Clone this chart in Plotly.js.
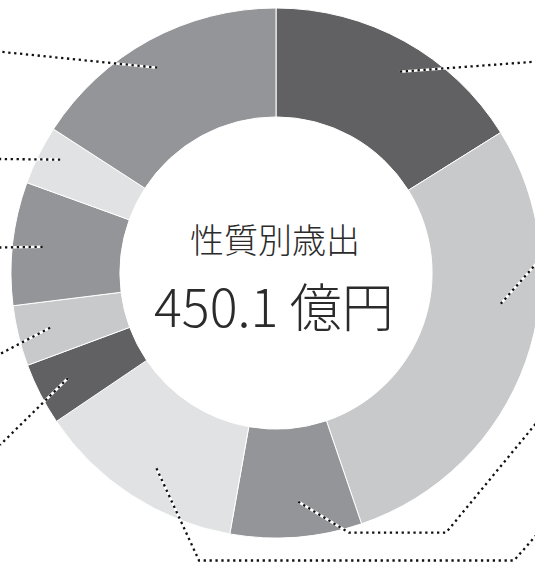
<!DOCTYPE html>
<html>
<head>
<meta charset="utf-8">
<script src="https://cdn.plot.ly/plotly-3.0.1.min.js"></script>
<style>
html,body{margin:0;padding:0;overflow:hidden;background:#fff;}
#chart{width:550px;height:563px;}
</style>
</head>
<body>
<div id="chart"></div>
<script>
// ---- data (億円) ----
const categories = ["人件費", "扶助費", "公債費", "物件費", "維持補修費", "補助費等", "普通建設事業費", "積立金", "繰出金"];
const values = [72.5, 129.0, 36.1, 57.4, 17.1, 16.6, 33.8, 16.2, 71.4];
const centerTitle = "性質別歳出";
const centerTotal = "450.1 億円";

// ---- styles / layout ----
const sliceColors = ["#616163", "#c8c9ca", "#949598", "#e1e2e3", "#616163", "#c8c9ca", "#949598", "#e1e2e3", "#949598"];
const W = 550, H = 563;
const CX = 276, CY = 273, R = 265;
const HOLE = 0.589;
// leader anchor: [fraction along slice, fraction of outer radius]
const leaderAnchor = [[0.545,0.892],[0.386,0.856],[0.46,0.867],[0.467,0.864],[0.53,0.879],[0.51,0.877],[0.5,0.886],[0.6,0.92],[0.474,0.895]];
// further leader route points (pixels)
const leaderRoute = [
  [[550, 60.6]],
  [[550, 248]],
  [[349, 532.7], [446, 532.7], [550, 406.4]],
  [[199, 560.5], [514, 560.5], [550, 519.5]],
  [[0, 445]],
  [[0, 354]],
  [[0, 247.5]],
  [[0, 159]],
  [[0, 51.7]]
];

const px = x => x / W;
const py = y => 1 - y / H;

const total = values.reduce((a, b) => a + b, 0);
const shapes = [];
let cum = 0;
values.forEach((v, i) => {
  const a0 = cum / total * 360;
  const a1 = (cum + v) / total * 360;
  cum += v;
  const ang = (a0 + (a1 - a0) * leaderAnchor[i][0]) * Math.PI / 180;
  const r = R * leaderAnchor[i][1];
  const sx = CX + r * Math.sin(ang);
  const sy = CY - r * Math.cos(ang);
  const pts = [[sx, sy]].concat(leaderRoute[i]);
  const path = pts.map((p, k) => (k ? "L" : "M") + px(p[0]).toFixed(5) + "," + py(p[1]).toFixed(5)).join(" ");
  shapes.push({type: "path", xref: "paper", yref: "paper", path: path, line: {color: "#ffffff", width: 2.6}});
  shapes.push({type: "path", xref: "paper", yref: "paper", path: path, line: {color: "#111111", width: 2.3, dash: "2.3px,3.6px"}});
});

const trace = {
  type: "pie",
  labels: categories,
  values: values,
  sort: false,
  direction: "clockwise",
  rotation: 0,
  hole: HOLE,
  textinfo: "none",
  hoverinfo: "label+value+percent",
  marker: {colors: sliceColors, line: {color: "#ffffff", width: 1}},
  domain: {x: [(CX - R) / W, (CX + R) / W], y: [py(CY + R), py(CY - R)]},
  showlegend: false
};

const layout = {
  width: W,
  height: H,
  margin: {l: 0, r: 0, t: 0, b: 0},
  paper_bgcolor: "#ffffff",
  showlegend: false,
  shapes: shapes,
  annotations: [
    {text: centerTitle, x: px(275), y: py(238), xref: "paper", yref: "paper", showarrow: false,
     xanchor: "center", yanchor: "middle",
     font: {family: "Noto Sans CJK JP", size: 34, color: "#2b2b2b", weight: 300}},
    {text: centerTotal, x: px(274), y: py(304), xref: "paper", yref: "paper", showarrow: false,
     xanchor: "center", yanchor: "middle",
     font: {family: "Noto Sans CJK JP", size: 52, color: "#2b2b2b", weight: 300}}
  ]
};

Plotly.newPlot("chart", [trace], layout, {displayModeBar: false, staticPlot: true});
</script>
</body>
</html>
